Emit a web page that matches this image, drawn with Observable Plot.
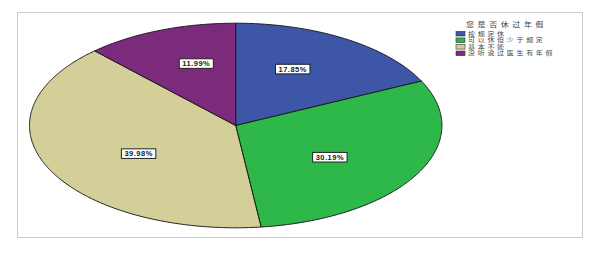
<!DOCTYPE html>
<html><head><meta charset="utf-8">
<script src="https://cdn.jsdelivr.net/npm/d3@7"></script>
<script src="https://cdn.jsdelivr.net/npm/@observablehq/plot@0.6"></script>
<style>
body{margin:0;background:#fff;}
#wrap{position:relative;width:605px;height:275px;overflow:hidden;}
#frame{position:absolute;left:17px;top:12px;width:566px;height:226px;border:1px solid #cccccc;box-sizing:border-box;}
#wrap svg{position:absolute;left:0;top:0;}
</style></head><body><div id="wrap"><div id="frame"></div></div>
<script>
const legendTitle = "您是否休过年假";
const categories = ["按规定休", "可以休但少于规定", "基本不能", "没听说过医生有年假"];
const percents = [17.85, 30.19, 39.98, 11.99];
const colors = ["#3d56a8", "#2eb84a", "#d4cf98", "#7b2a7c"];

const arcs = d3.pie().sort(null).value(d => d)(percents);
const pts = [];
arcs.forEach((a, i) => {
  const c = categories[i];
  pts.push({cat: c, x: 0, y: 0});
  const n = Math.max(2, Math.ceil((a.endAngle - a.startAngle) / (Math.PI / 360)));
  for (let k = 0; k <= n; k++) {
    const t = a.startAngle + (a.endAngle - a.startAngle) * k / n;
    pts.push({cat: c, x: Math.sin(t), y: Math.cos(t)});
  }
  pts.push({cat: c, x: 0, y: 0});
});
const labels = arcs.map((a, i) => {
  const m = (a.startAngle + a.endAngle) / 2;
  return {x: 0.52 * Math.sin(m), y: 0.65 * Math.cos(m), t: percents[i].toFixed(2) + "%"};
});

const chart = Plot.plot({
  width: 605, height: 275,
  marginLeft: 29, marginRight: 163.6, marginTop: 22.7, marginBottom: 47.7,
  x: {domain: [-1, 1], axis: null},
  y: {domain: [-1, 1], axis: null},
  color: {domain: categories, range: colors},
  style: {background: "transparent", overflow: "visible"},
  marks: [
    Plot.line(pts, {x: "x", y: "y", z: "cat", fill: "cat", stroke: "#1c1c1c", strokeWidth: 1, strokeLinejoin: "round"}),
    Plot.text(labels, {x: "x", y: "y", text: "t", fontSize: 7.5, fontWeight: "bold", fill: "#1a1a1a", fontFamily: "Liberation Sans, Arial, sans-serif", className: "pctlab"})
  ]
});
document.getElementById("wrap").appendChild(chart);

// white boxes behind labels
const svgns = "http://www.w3.org/2000/svg";
chart.querySelectorAll("text").forEach(t => {
  if (!t.closest(".pctlab") && !(t.parentNode.getAttribute("class") || "").includes("pctlab")) return;
  t.setAttribute("letter-spacing", "0.5");
  const b = t.getBBox();
  const r = document.createElementNS(svgns, "rect");
  r.setAttribute("x", b.x - 3);
  r.setAttribute("y", b.y - 0.3);
  r.setAttribute("width", b.width + 6);
  r.setAttribute("height", b.height + 0.6);
  r.setAttribute("fill", "#fff");
  r.setAttribute("stroke", "#222");
  r.setAttribute("stroke-width", "1");
  if (t.getAttribute("transform")) r.setAttribute("transform", t.getAttribute("transform"));
  t.parentNode.insertBefore(r, t);
});

// legend (drawn into the SVG)
const svg = d3.select(chart);
const lg = svg.append("g").attr("font-family", "'Noto Sans CJK SC', sans-serif").attr("fill", "#444").attr("text-anchor", "start");
lg.append("g").attr("transform", "translate(466,24.5) scale(1,0.85)")
  .append("text").attr("text-anchor", "start").attr("dy", "0.35em").attr("font-size", 8).attr("letter-spacing", 3.6).text(legendTitle);
categories.forEach((c, i) => {
  const cy = 33.7 + i * 6.55;
  lg.append("rect").attr("x", 456).attr("y", cy - 2.3).attr("width", 9).attr("height", 4.6)
    .attr("fill", colors[i]).attr("stroke", "#333").attr("stroke-width", 0.6);
  lg.append("g").attr("transform", `translate(468,${cy}) scale(1,0.8)`)
    .append("text").attr("text-anchor", "start").attr("dy", "0.36em").attr("font-size", 7).attr("letter-spacing", 2.7).text(c);
});
</script>
</body></html>
